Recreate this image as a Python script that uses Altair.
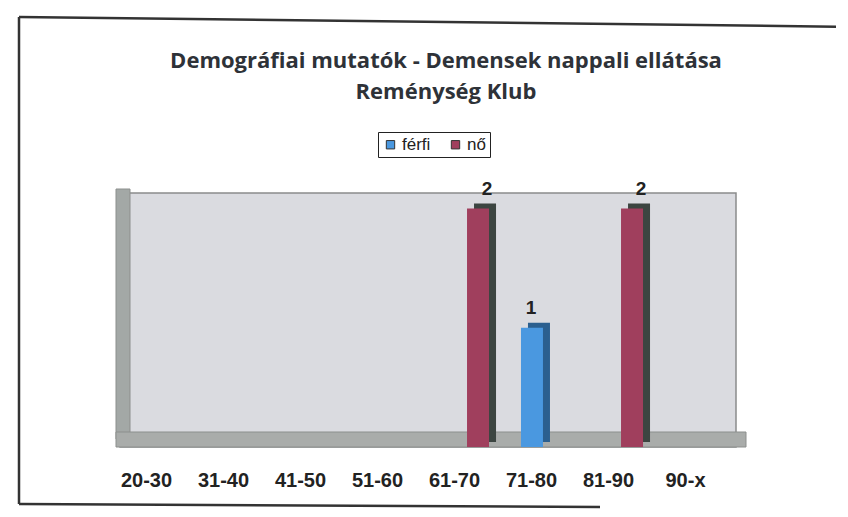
import altair as alt
import pandas as pd

categories = ["20-30", "31-40", "41-50", "51-60", "61-70", "71-80", "81-90", "90-x"]
series = ["férfi", "nő"]
ferfi = [0, 0, 0, 0, 0, 1, 0, 0]
no = [0, 0, 0, 0, 2, 0, 2, 0]

rows = []
for i, c in enumerate(categories):
    rows.append({"kor": c, "nem": "férfi", "db": ferfi[i]})
    rows.append({"kor": c, "nem": "nő", "db": no[i]})
df = pd.DataFrame(rows)
bars_df = df[df["db"] > 0]
cat_df = pd.DataFrame({"kor": categories})
one_df = pd.DataFrame({"k": [0]})

front_colors = ["#4a98e0", "#a03f5d"]
side_colors = ["#2b5f8f", "#3c4541"]

W, H = 616, 254
BAND = W / len(categories)

x = alt.X("kor:N", sort=categories, scale=alt.Scale(domain=categories, paddingInner=0, paddingOuter=0),
          axis=None)
xo_front = alt.XOffset("nem:N", sort=series,
                       scale=alt.Scale(domain=series, paddingOuter=0.67, paddingInner=0))
xo_side = alt.XOffset("nem:N", sort=series,
                      scale=alt.Scale(domain=series, paddingOuter=0.67, paddingInner=0,
                                      range=[7, BAND + 7]))
y = alt.Y("db:Q", scale=alt.Scale(domain=[0, 2.13], nice=False), axis=None)

line_style = dict(color="#333333", strokeWidth=2.5)
top_line = alt.Chart(one_df).mark_rule(**line_style).encode(
    x=alt.value(-101), x2=alt.value(740), y=alt.value(-176), y2=alt.value(-166)
)
left_line = alt.Chart(one_df).mark_rule(**line_style).encode(
    x=alt.value(-101), y=alt.value(-176), y2=alt.value(311)
)
bottom_line = alt.Chart(one_df).mark_rule(**line_style).encode(
    x=alt.value(-101), x2=alt.value(480), y=alt.value(311), y2=alt.value(314)
)

sidewall = alt.Chart(one_df).mark_rect(fill="#a3a8a6", stroke="#8c8f8d").encode(
    x=alt.value(-4), x2=alt.value(10), y=alt.value(-4), y2=alt.value(H - 8)
)

floor = alt.Chart(one_df).mark_rect(fill="#a9acaa", stroke="#8c8f8d").encode(
    x=alt.value(-4), x2=alt.value(W + 10), y=alt.value(H - 15), y2=alt.value(H)
)

side = alt.Chart(bars_df).mark_bar(width=22, yOffset=-5).encode(
    x=x, xOffset=xo_side, y=y,
    color=alt.Color("nem:N", sort=series, scale=alt.Scale(domain=series, range=side_colors), legend=None),
)

front = alt.Chart(bars_df).mark_bar(width=22).encode(
    x=x, xOffset=xo_front, y=y,
    color=alt.Color("nem:N", sort=series, scale=alt.Scale(domain=series, range=front_colors),
                    legend=alt.Legend(title=None, orient="none", legendX=258, legendY=-61,
                                      direction="horizontal", strokeColor="#222222", padding=4,
                                      symbolType="square", symbolSize=70, symbolStrokeColor="#333333",
                                      symbolStrokeWidth=1, labelFontSize=17, labelFont="Liberation Sans",
                                      labelColor="#222222", columnPadding=16, labelOffset=3)),
)

labels = alt.Chart(bars_df).mark_text(baseline="bottom", dy=-10, dx=4, fontSize=19, fontWeight="bold",
                                      font="Liberation Sans", color="#222222").encode(
    x=x, xOffset=xo_front, y=y, text="db:Q"
)

cat_labels = alt.Chart(cat_df).mark_text(baseline="middle", dx=-12, fontSize=20, fontWeight="bold",
                                         font="Liberation Sans", color="#222222").encode(
    x=x, y=alt.value(H + 34), text="kor:N"
)

chart = alt.layer(top_line, left_line, bottom_line, sidewall, floor, side, front, labels,
                  cat_labels).resolve_scale(
    color="independent", xOffset="independent"
).properties(
    width=W, height=H,
    autosize=alt.AutoSizeParams(type="none"),
    padding={"left": 112, "top": 185, "right": 100, "bottom": 68},
    title=alt.TitleParams(["Demográfiai mutatók - Demensek nappali ellátása", "Reménység Klub"],
                          font="Open Sans", fontSize=22, fontWeight="bold", color="#2e3238",
                          anchor="middle", frame="group", dx=18, offset=-88, lineHeight=31),
).configure(background="white").configure_view(fill="#dadbe0", stroke="#8a8c8c", strokeWidth=1.5)

chart.save("out.html", embed_options={"renderer": "svg", "actions": False})
